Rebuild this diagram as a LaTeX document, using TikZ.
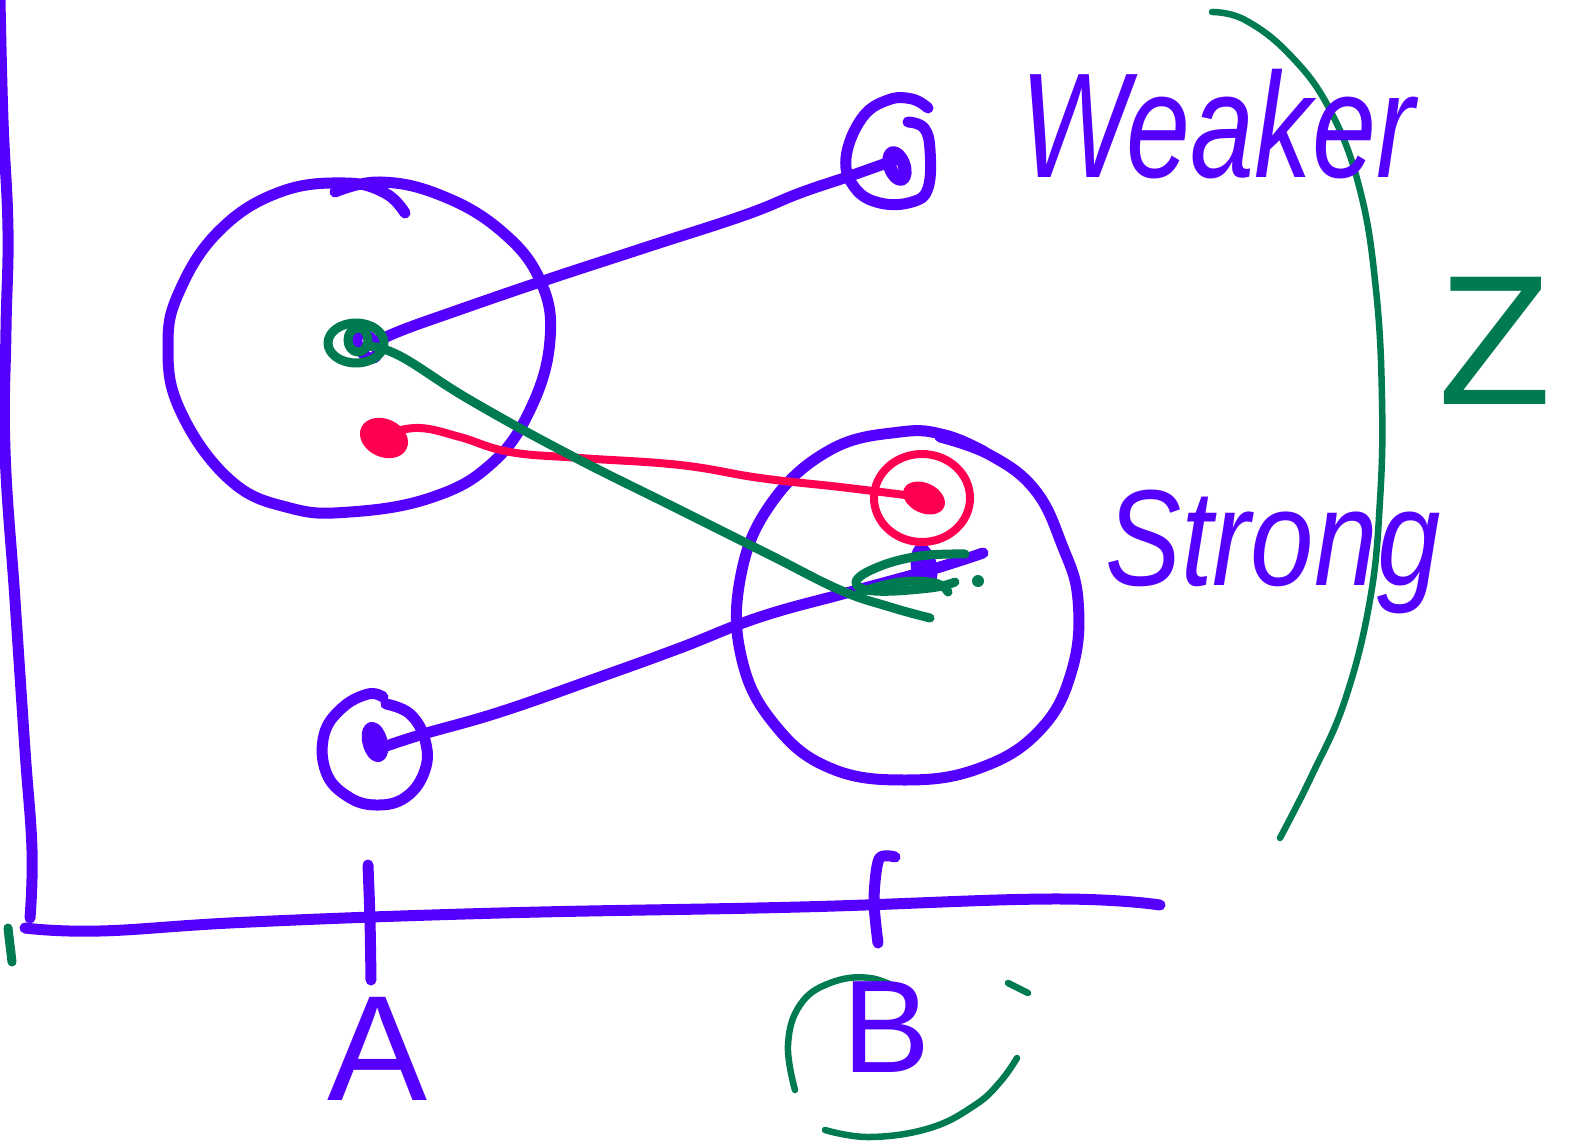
\documentclass[tikz,border=0pt]{standalone}
\usepackage{fontspec}
\setmainfont{Liberation Sans}
\definecolor{pur}{RGB}{85,0,255}
\definecolor{grn}{RGB}{0,122,80}
\definecolor{rd}{RGB}{255,0,80}
\tikzset{
  pline/.style={draw=pur,line width=11pt,line cap=round,line join=round},
  gline/.style={draw=grn,line width=9pt,line cap=round,line join=round},
  rline/.style={draw=rd,line width=8pt,line cap=round,line join=round},
  ptext/.style={text=pur,inner sep=0pt},
}
\begin{document}
\begin{tikzpicture}[x=1pt,y=-1pt]
\useasboundingbox (0,0) rectangle (1573,1147);
% named points
\coordinate (w) at (895,160);
\coordinate (c1) at (367,346);
\coordinate (b1) at (375,750);
\coordinate (e1) at (983,553);
\coordinate (g2) at (930,618);
\coordinate (r1) at (390,433);
\coordinate (r2) at (928,498);
\coordinate (yt) at (0,0);
\coordinate (yb) at (30,918);
\coordinate (xl) at (25,928);
\coordinate (xr) at (1160,905);
% axes
\draw[pline] plot[smooth,tension=0.7] coordinates {(yt) (3,120) (8,230) (6,330) (5,450) (15,600) (25,750) (32,850) (yb)};
\draw[pline] plot[smooth,tension=0.7] coordinates {(xl) (100,931) (250,922) (500,913) (800,907) (1050,899) (xr)};
\draw[pline] plot[smooth] coordinates {(368,865) (370,920) (371,980)};
\draw[pline] plot[smooth] coordinates {(895,857) (879,859) (874,900) (878,943)};
\draw[gline] (8,928) -- (12,962);
% left big circle
\draw[pline] plot[smooth,tension=0.7] coordinates {(405,213) (385,193) (345,183) (280,192) (220,230) (180,290) (168,345) (180,410) (230,480) (290,508) (350,512) (430,498) (490,465) (530,410) (550,340) (540,280) (500,230) (440,195) (380,182) (335,192)};
% right big circle
\draw[pline] plot[smooth,tension=0.7] coordinates {(985,452) (945,435) (900,432) (830,450) (770,505) (740,580) (742,660) (775,725) (830,768) (905,780) (980,768) (1040,730) (1072,670) (1078,600) (1062,545) (1035,490) (990,455) (940,437)};
% top right small ring
\draw[pline] plot[smooth,tension=0.7] coordinates {(928,108) (912,99) (888,100) (862,118) (846,158) (855,188) (880,203) (912,202) (928,188) (930,150) (924,128) (908,122)};
\draw[pline,line width=13pt] (897,166) ellipse [x radius=7, y radius=14, rotate=20];
% bottom left small ring
\draw[pline] plot[smooth,tension=0.7] coordinates {(383,697) (368,694) (342,708) (324,735) (326,772) (347,796) (376,805) (406,797) (425,770) (425,740) (410,714) (386,704)};
\draw[pline,line width=13pt] (375,742) ellipse [x radius=6, y radius=14, rotate=15];
% connectors
\draw[pline] plot[smooth,tension=0.7] coordinates {(w) (850,176) (800,193) (745,215) (650,246) (540,282) (450,313) (400,331) (c1)};
\draw[pline] plot[smooth,tension=0.7] coordinates {(b1) (420,735) (500,712) (600,677) (680,648) (760,617) (850,592) (930,570) (e1)};
\draw[pline] (c1) ellipse [x radius=8, y radius=14, rotate=35];
\fill[pur] (924,567) ellipse [x radius=13, y radius=24, rotate=10];
% red
\fill[rd] (r1) ++(-6,5) ellipse [x radius=25, y radius=19, rotate=-25];
\draw[rline] plot[smooth,tension=0.7] coordinates {(r1) (420,428) (460,437) (510,452) (580,458) (680,465) (760,478) (840,487) (905,495) (r2)};
\draw[rline] (922,498) ellipse [x radius=48, y radius=44];
\fill[rd] (r2) ++(-4,0) ellipse [x radius=22, y radius=15, rotate=-25];
% green
\draw[gline] plot[smooth,tension=0.7] coordinates {(c1) (400,356) (470,400) (570,455) (680,510) (770,555) (840,590) (890,607) (g2)};
\draw[gline] (356,343) ellipse [x radius=28, y radius=20];
\draw[gline] (358,340) ellipse [x radius=10, y radius=12];
\draw[gline] plot[smooth,tension=0.7] coordinates {(965,554) (920,556) (878,567) (856,582) (875,591) (930,588) (955,582)};
\draw[gline] plot[smooth,tension=0.7] coordinates {(860,592) (900,582) (935,583) (948,592)};
\fill[grn] (978,581) circle (6);
\draw[gline,line width=6.5pt] plot[smooth,tension=0.7] coordinates {(1212,12) (1245,20) (1290,55) (1330,110) (1360,190) (1376,290) (1382,400) (1380,500) (1370,600) (1345,700) (1312,775) (1280,838)};
\draw[gline,line width=6.5pt] plot[smooth,tension=0.7] coordinates {(795,1090) (788,1045) (800,1005) (830,983) (870,978) (905,992)};
\draw[gline,line width=6.5pt] plot[smooth] coordinates {(1008,983) (1028,993)};
\draw[gline,line width=6.5pt] plot[smooth,tension=0.7] coordinates {(825,1130) (870,1137) (930,1128) (975,1105) (1000,1082) (1017,1058)};
% texts
\node[ptext,anchor=base west,yscale=1.3] (weak) at (1020,178) {\fontsize{115}{115}\selectfont\itshape Weaker};
\node[ptext,anchor=base west,yscale=1.2] (strong) at (1105,585) {\fontsize{114}{114}\selectfont\itshape Strong};
\node[ptext,anchor=base] (la) at (378,1100) {\fontsize{150}{150}\selectfont A};
\node[ptext,anchor=base] (lb) at (887,1072) {\fontsize{132}{132}\selectfont B};
\node[text=grn,inner sep=0pt,anchor=base] (lz) at (1495,404) {\fontsize{185}{185}\selectfont Z};
\end{tikzpicture}
\end{document}
